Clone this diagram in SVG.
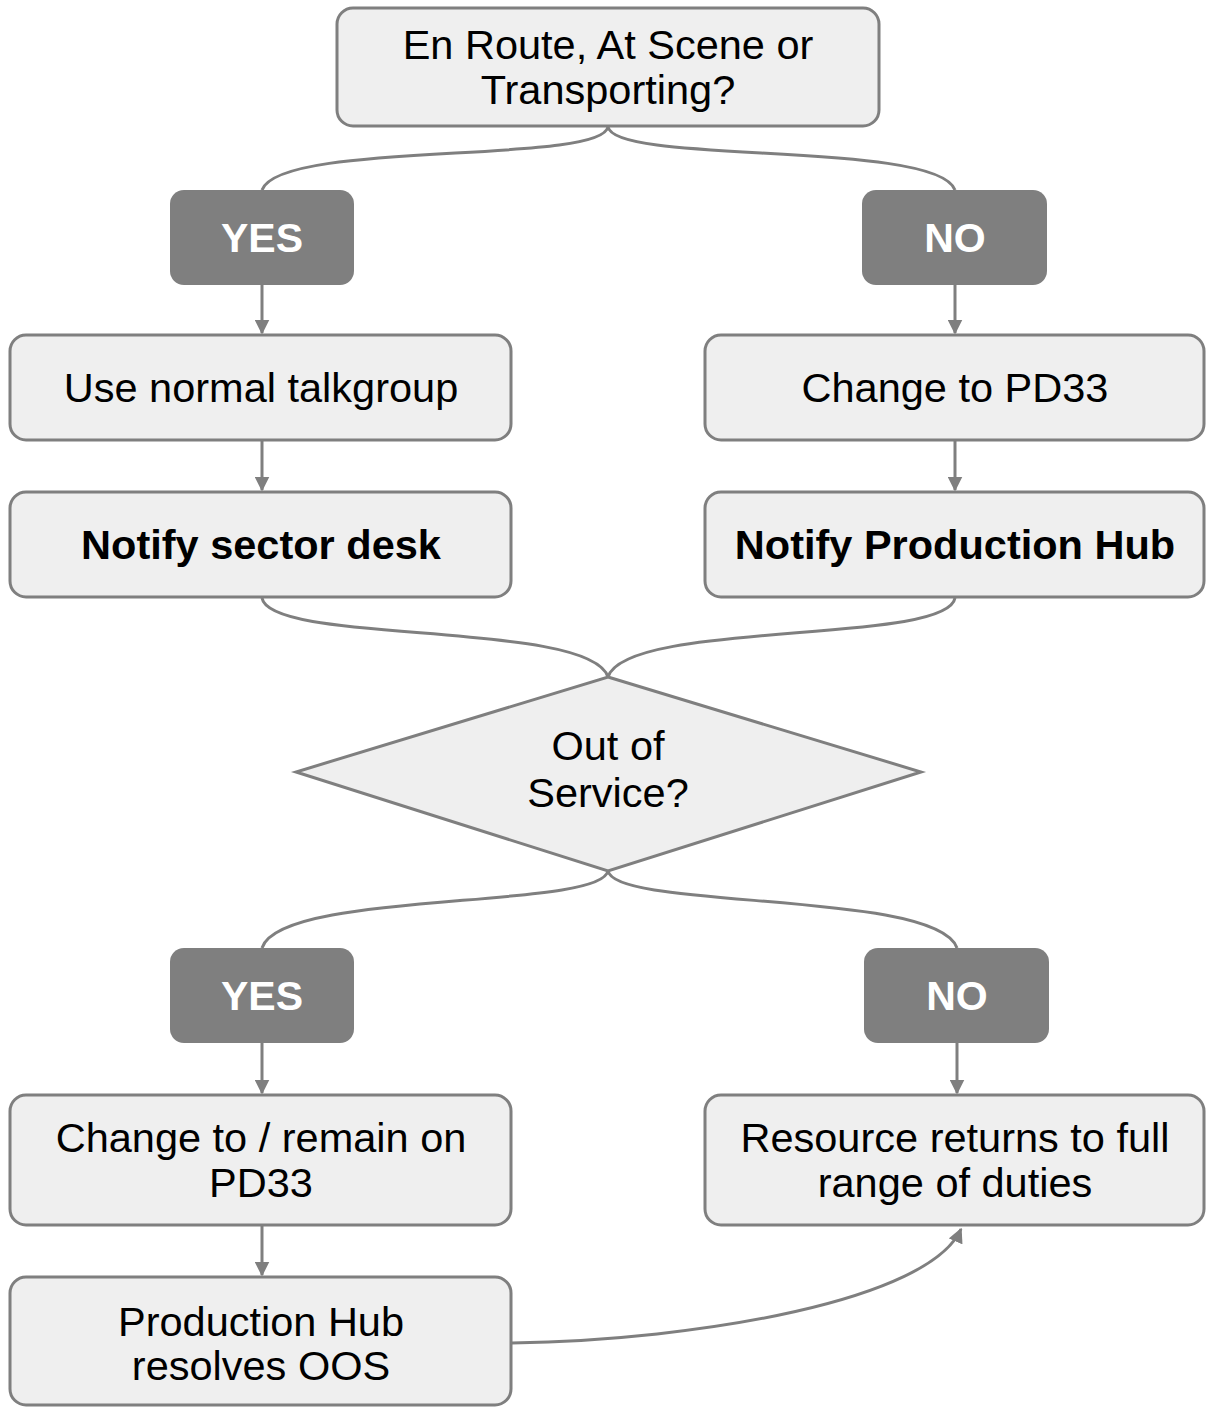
<svg xmlns="http://www.w3.org/2000/svg" width="1206" height="1407" viewBox="0 0 1206 1407">
<style>
.box{fill:#efefef;stroke:#7f7f7f;stroke-width:3}
.lab{fill:#7f7f7f;stroke:none}
.t{font-family:"Liberation Sans",Arial,sans-serif;font-size:41.5px;fill:#000;text-anchor:middle}
.b{font-weight:bold}
.w{font-family:"Liberation Sans",Arial,sans-serif;font-size:41px;font-weight:bold;fill:#fff;text-anchor:middle}
.c{fill:none;stroke:#7f7f7f;stroke-width:3}
</style>
<defs>
<marker id="ah" viewBox="0 0 10 10" refX="9" refY="5" markerWidth="5" markerHeight="5" markerUnits="strokeWidth" orient="auto">
<path d="M0,0 L10,5 L0,10 z" fill="#7f7f7f"/>
</marker>
</defs>
<rect width="1206" height="1407" fill="#fff"/>
<g id="connectors">
<path class="c" d="M608,127 C600,165 280,140 262,190"/>
<path class="c" d="M608,127 C616,165 937,140 955,190"/>
<path class="c" d="M262,285 L262,333" marker-end="url(#ah)"/>
<path class="c" d="M955,285 L955,333" marker-end="url(#ah)"/>
<path class="c" d="M262,440 L262,490" marker-end="url(#ah)"/>
<path class="c" d="M955,440 L955,490" marker-end="url(#ah)"/>
<path class="c" d="M262,598 C270,645 590,620 608,677"/>
<path class="c" d="M955,598 C947,645 626,620 608,677"/>
<path class="c" d="M608,871 C600,910 280,890 262,948"/>
<path class="c" d="M608,871 C616,910 937,890 957,948"/>
<path class="c" d="M262,1043 L262,1093" marker-end="url(#ah)"/>
<path class="c" d="M957,1043 L957,1093" marker-end="url(#ah)"/>
<path class="c" d="M262,1225 L262,1275" marker-end="url(#ah)"/>
<path class="c" d="M512,1343 C700,1340 930,1300 961,1229" marker-end="url(#ah)"/>
</g>
<g id="n-start">
<rect class="box" x="337" y="8" width="542" height="118" rx="16"/>
<text class="t" x="608" y="59">En Route, At Scene or</text>
<text class="t" x="608" y="104">Transporting?</text>
</g>
<g id="n-yes1">
<rect class="lab" x="170" y="190" width="184" height="95" rx="14"/>
<text class="w" x="262" y="252">YES</text>
</g>
<g id="n-no1">
<rect class="lab" x="862" y="190" width="185" height="95" rx="14"/>
<text class="w" x="955" y="252">NO</text>
</g>
<g id="n-normal">
<rect class="box" x="10" y="335" width="501" height="105" rx="16"/>
<text class="t" x="261" y="402">Use normal talkgroup</text>
</g>
<g id="n-pd33">
<rect class="box" x="705" y="335" width="499" height="105" rx="16"/>
<text class="t" x="955" y="402">Change to PD33</text>
</g>
<g id="n-sector">
<rect class="box" x="10" y="492" width="501" height="105" rx="16"/>
<text class="t b" x="261" y="559">Notify sector desk</text>
</g>
<g id="n-hub">
<rect class="box" x="705" y="492" width="499" height="105" rx="16"/>
<text class="t b" x="955" y="559">Notify Production Hub</text>
</g>
<g id="n-oos">
<polygon class="box" points="608,677 921,772 608,871 296,772"/>
<text class="t" x="608" y="760">Out of</text>
<text class="t" x="608" y="807">Service?</text>
</g>
<g id="n-yes2">
<rect class="lab" x="170" y="948" width="184" height="95" rx="14"/>
<text class="w" x="262" y="1010">YES</text>
</g>
<g id="n-no2">
<rect class="lab" x="864" y="948" width="185" height="95" rx="14"/>
<text class="w" x="957" y="1010">NO</text>
</g>
<g id="n-remain">
<rect class="box" x="10" y="1095" width="501" height="130" rx="16"/>
<text class="t" x="261" y="1152">Change to / remain on</text>
<text class="t" x="261" y="1197">PD33</text>
</g>
<g id="n-returns">
<rect class="box" x="705" y="1095" width="499" height="130" rx="16"/>
<text class="t" x="955" y="1152">Resource returns to full</text>
<text class="t" x="955" y="1197">range of duties</text>
</g>
<g id="n-resolves">
<rect class="box" x="10" y="1277" width="501" height="128" rx="16"/>
<text class="t" x="261" y="1336">Production Hub</text>
<text class="t" x="261" y="1380">resolves OOS</text>
</g>
</svg>
